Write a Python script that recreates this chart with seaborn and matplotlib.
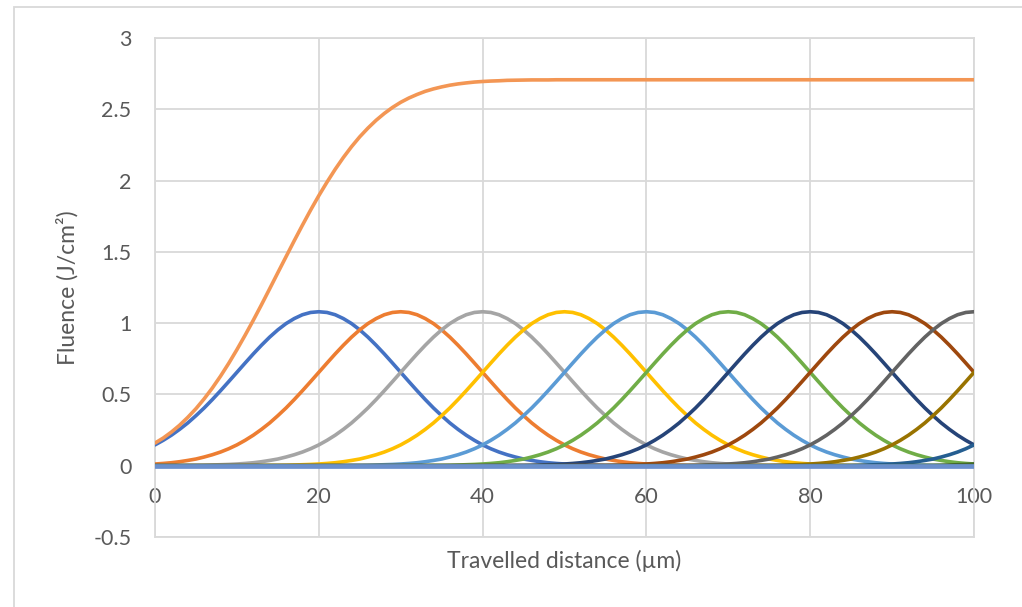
import matplotlib
matplotlib.use("Agg")
import matplotlib.pyplot as plt
from matplotlib.patches import Rectangle
import pandas as pd
import seaborn as sns

# ---------------- data ----------------
distance = list(range(0, 101))  # travelled distance, µm

# single-pulse fluence profile vs. |offset| from the pulse centre, 0..40 µm
pulse_half_profile = [1.080, 1.075, 1.059, 1.032, 0.997, 0.953, 0.902, 0.845, 0.784, 0.720,
                      0.655, 0.590, 0.526, 0.464, 0.405, 0.351, 0.300, 0.255, 0.214, 0.178,
                      0.146, 0.119, 0.096, 0.077, 0.061, 0.047, 0.037, 0.028, 0.021, 0.016,
                      0.012, 0.009, 0.007, 0.005, 0.003, 0.002, 0.002, 0.001, 0.001, 0.001,
                      0.000]
pulse_offsets = list(range(-40, 41))
pulse_profile = pulse_half_profile[::-1] + pulse_half_profile[1:]

pulse_centers = [20, 30, 40, 50, 60, 70, 80, 90, 100, 110, 120, 130]
pulse_colors = ["#4472C4", "#ED7D31", "#A5A5A5", "#FFC000", "#5B9BD5", "#70AD47",
                "#264478", "#9E480E", "#636363", "#997300", "#255E91", "#43682B"]

baseline = [0.0] * len(distance)
baseline_color = "#6A8FCC"

cumulative = [0.159, 0.194, 0.236, 0.284, 0.339, 0.400, 0.469, 0.545, 0.628, 0.718,
              0.814, 0.915, 1.020, 1.129, 1.241, 1.354, 1.466, 1.578, 1.687, 1.793,
              1.894, 1.989, 2.079, 2.162, 2.238, 2.307, 2.368, 2.423, 2.471, 2.513,
              2.549, 2.579, 2.604, 2.626, 2.643, 2.657, 2.669, 2.678, 2.685, 2.691,
              2.695, 2.698, 2.700, 2.703, 2.704, 2.705, 2.706, 2.706, 2.706,
              2.707, 2.707, 2.707, 2.707, 2.707, 2.707, 2.707, 2.707, 2.707, 2.707,
              2.707, 2.707, 2.707, 2.707, 2.707, 2.707, 2.707, 2.707, 2.707, 2.707,
              2.707, 2.707, 2.707, 2.707, 2.707, 2.707, 2.707, 2.707, 2.707, 2.707,
              2.707, 2.707, 2.707, 2.707, 2.707, 2.707, 2.707, 2.707, 2.707, 2.707,
              2.707, 2.707, 2.707, 2.707, 2.707, 2.707, 2.707, 2.707, 2.707, 2.707,
              2.707, 2.707]
cumulative_color = "#F39654"

x_ticks = [0, 20, 40, 60, 80, 100]
y_ticks = [-0.5, 0, 0.5, 1, 1.5, 2, 2.5, 3]
y_tick_labels = ["-0.5", "0", "0.5", "1", "1.5", "2", "2.5", "3"]
x_label = "Travelled distance (µm)"
y_label = "Fluence (J/cm²)"

# ---------------- styling ----------------
sns.set_theme(style="white")
plt.rcParams["font.family"] = ["Lato", "DejaVu Sans"]
TEXT = "#595959"
GRID = "#D9D9D9"

W, H = 1022, 607
fig = plt.figure(figsize=(W / 100, H / 100), dpi=100)
L, R, T, B = 155, 974, 38, 537
ax = fig.add_axes([L / W, 1 - B / H, (R - L) / W, (B - T) / H])

profile = dict(zip(pulse_offsets, pulse_profile))
lw = 2.6
z = 3
for c, col in zip(pulse_centers, pulse_colors):
    vals = [profile.get(x - c, 0.0) for x in distance]
    df = pd.DataFrame({"x": distance, "y": vals})
    sns.lineplot(data=df, x="x", y="y", ax=ax, color=col, lw=lw, sort=False,
                 legend=False, zorder=z)
    z += 1

df0 = pd.DataFrame({"x": distance, "y": baseline})
sns.lineplot(data=df0, x="x", y="y", ax=ax, color=baseline_color, lw=3.4,
             legend=False, zorder=z)
z += 1
dfc = pd.DataFrame({"x": distance, "y": cumulative})
sns.lineplot(data=dfc, x="x", y="y", ax=ax, color=cumulative_color, lw=lw,
             legend=False, zorder=z)

ax.set_xlim(0, 100)
ax.set_ylim(-0.5, 3)
ax.set_xticks(x_ticks)
ax.set_xticklabels([str(t) for t in x_ticks])
ax.set_yticks(y_ticks)
ax.set_yticklabels(y_tick_labels)
ax.set_xlabel("")
ax.set_ylabel("")

ax.grid(True, color=GRID, lw=1.3)
ax.set_axisbelow(True)
for s in ["top", "left", "right"]:
    ax.spines[s].set_visible(True)
    ax.spines[s].set_color(GRID)
    ax.spines[s].set_linewidth(1.3)
ax.spines["bottom"].set_position(("data", 0))
ax.spines["bottom"].set_visible(False)
ax.axhline(-0.5, color=GRID, lw=1.3, clip_on=False, zorder=1)

ax.tick_params(axis="x", length=0, pad=15, labelsize=15.5, labelcolor=TEXT)
ax.tick_params(axis="y", length=0, pad=17, labelsize=15.5, labelcolor=TEXT)

fig.text(564.5 / W, 1 - 561 / H, x_label, ha="center", va="center",
         fontsize=16.5, color=TEXT)
fig.text(67 / W, 1 - 288 / H, y_label, ha="center", va="center",
         rotation=90, fontsize=16.5, color=TEXT)

# chart-area border
fig.patches.append(Rectangle((14 / W, -0.2), 2.0, (1 - 7 / H) + 0.2,
                             transform=fig.transFigure, fill=False,
                             edgecolor=GRID, lw=1.3))

fig.savefig("out.png", dpi=100, facecolor="white")
